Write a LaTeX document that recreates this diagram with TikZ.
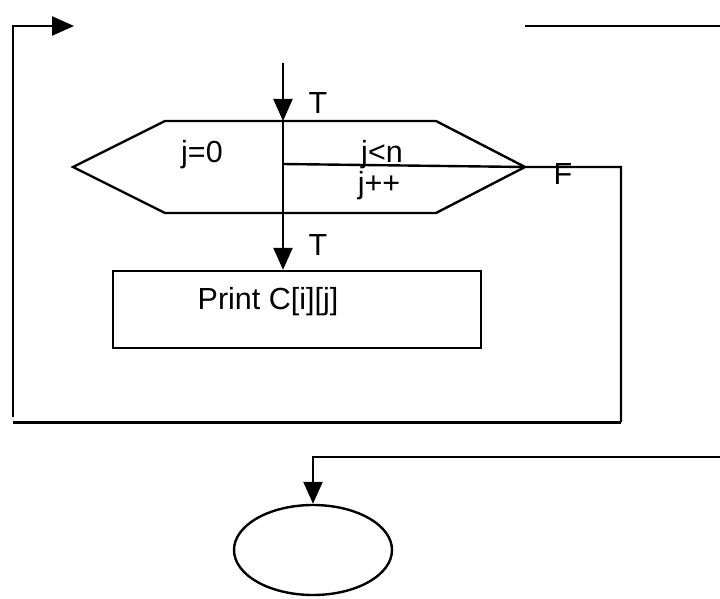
\documentclass[tikz,border=0pt]{standalone}
\usepackage{fontspec}
\setmainfont{Liberation Sans}
\usetikzlibrary{arrows.meta,shapes.geometric}
\begin{document}
\begin{tikzpicture}[x=1pt,y=-1pt,
  ln/.style={line width=2.4pt,line cap=butt,line join=miter},
  arr/.style={ln,-{Triangle[length=22pt,width=19pt]}},
  lbl/.style={font=\fontsize{30.5}{33}\selectfont,anchor=base,inner sep=0pt}]
\useasboundingbox (0,0) rectangle (720,599);
% coordinates
\coordinate (lbot) at (13,417);
\coordinate (ltop) at (13,26);
\coordinate (ltip) at (74,26);
\coordinate (trs) at (525,26);
\coordinate (tre) at (720,26);
\coordinate (ins) at (283,63);
\coordinate (hl) at (73,167);
\coordinate (htl) at (165,121);
\coordinate (htm) at (283,121);
\coordinate (htr) at (436,121);
\coordinate (hr) at (525,167);
\coordinate (hbr) at (436,213);
\coordinate (hbl) at (165,213);
\coordinate (hmid) at (283,164);
\coordinate (rtop) at (621,167);
\coordinate (rbot) at (621,422);
\coordinate (bl) at (13,422);
\coordinate (ein) at (720,457);
\coordinate (ecor) at (313,457);
% shapes
\draw[ln] (hl) -- (htl) -- (htr) -- (hr) -- (hbr) -- (hbl) -- cycle;
\node[draw,line width=2.4pt,minimum width=368pt,minimum height=77pt,inner sep=0pt] (box) at (297,309.5) {};
\node[draw,ellipse,line width=2.4pt,minimum width=158pt,minimum height=90pt,inner sep=0pt] (end) at (313,550) {};
% connectors
\draw[arr] (lbot) -- (ltop) -- (ltip);
\draw[ln] (trs) -- (tre);
\draw[arr] (ins) -- (htm);
\draw[arr] (htm) -- (box.north -| htm);
\draw[ln] (hmid) -- (hr) -- (rtop) -- (rbot);
\draw[line width=3pt] (bl) -- (rbot);
\draw[arr] (ein) -- (ecor) -- (end.north);
% labels
\node[lbl] (t1) at (318,114) {T};
\node[lbl] (j0) at (202,162) {j=0};
\node[lbl] (jn) at (382,162) {j<n};
\node[lbl] (jp) at (379,193) {j++};
\node[lbl] (f) at (563,184) {F};
\node[lbl] (t2) at (318,255) {T};
\node[lbl] (pr) at (268,309) {Print C[i][j]};
\end{tikzpicture}
\end{document}
